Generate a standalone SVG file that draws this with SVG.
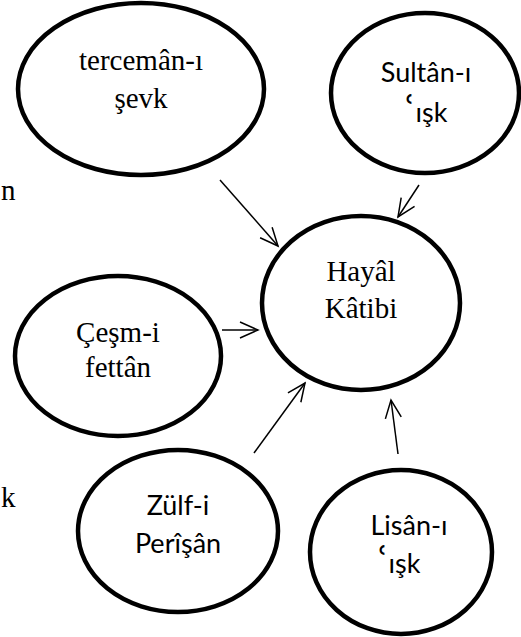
<svg xmlns="http://www.w3.org/2000/svg" width="521" height="637" viewBox="0 0 521 637">
<style>
.node ellipse{fill:#fff;stroke:#000;stroke-width:4.5}
.serif{font-family:"Liberation Serif","Times New Roman",serif;font-size:29px;fill:#000;text-anchor:middle}
.sans{font-family:"Lato","Noto Sans",sans-serif;font-size:27px;fill:#000;text-anchor:middle}
.ring{font-family:"DejaVu Sans",sans-serif;font-size:36px}
.edge line{stroke:#000;stroke-width:1.5;fill:none;marker-end:url(#arr)}
</style>
<defs>
<marker id="arr" markerUnits="userSpaceOnUse" markerWidth="22" markerHeight="20" refX="19" refY="10" orient="auto">
<path d="M1,2 L19,10 L1,18" fill="none" stroke="#000" stroke-width="1.5"/>
</marker>
</defs>
<rect width="521" height="637" fill="#fff"/>
<text class="serif" x="1" y="200" style="text-anchor:start">n</text>
<text class="serif" x="1" y="507" style="text-anchor:start">k</text>
<g id="edges" class="edge">
<line x1="220" y1="180" x2="278" y2="246"/>
<line x1="419" y1="185" x2="398" y2="217"/>
<line x1="222" y1="330" x2="258" y2="330"/>
<line x1="254" y1="453" x2="305" y2="383"/>
<line x1="398" y1="454" x2="391" y2="400"/>
</g>
<g id="n1" class="node">
<ellipse cx="141" cy="89" rx="123" ry="86"/>
<text class="serif" x="141" y="70">tercemân-ı</text>
<text class="serif" x="141" y="108">şevk</text>
</g>
<g id="n2" class="node">
<ellipse cx="425" cy="93" rx="94" ry="80"/>
<text class="sans" x="426" y="82">Sultân-ı</text>
<text class="sans" x="426" y="122"><tspan class="ring">ʿ</tspan>ışk</text>
</g>
<g id="n3" class="node">
<ellipse cx="361" cy="303" rx="99" ry="87"/>
<text class="serif" x="361" y="281">Hayâl</text>
<text class="serif" x="361" y="318">Kâtibi</text>
</g>
<g id="n4" class="node">
<ellipse cx="118" cy="356" rx="103" ry="80"/>
<text class="serif" x="118" y="342">Çeşm-i</text>
<text class="serif" x="118" y="377">fettân</text>
</g>
<g id="n5" class="node">
<ellipse cx="178" cy="531" rx="100" ry="81"/>
<text class="sans" x="178" y="515">Zülf-i</text>
<text class="sans" x="178" y="553">Perîşân</text>
</g>
<g id="n6" class="node">
<ellipse cx="401" cy="552" rx="91" ry="82"/>
<text class="sans" x="409" y="535">Lisân-ı</text>
<text class="sans" x="399" y="573"><tspan class="ring">ʿ</tspan>ışk</text>
</g>
</svg>
